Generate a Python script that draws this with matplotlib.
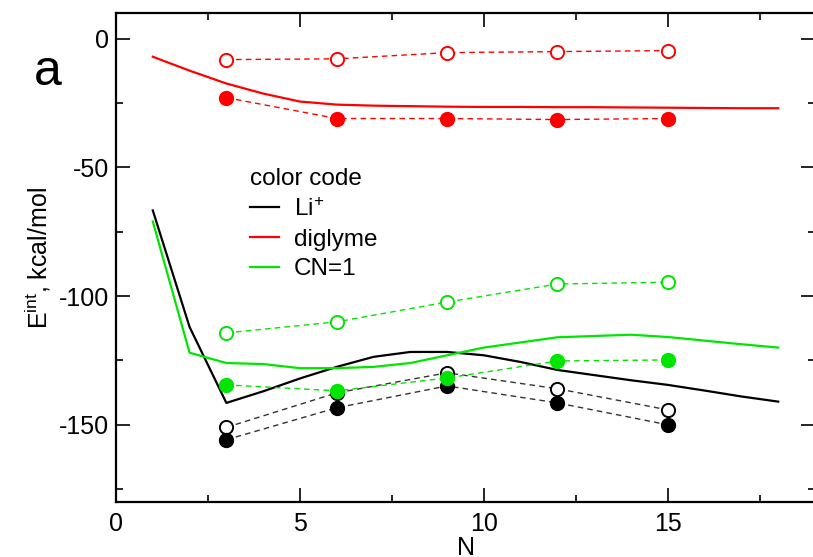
import numpy as np
import matplotlib
matplotlib.use("Agg")
import matplotlib.pyplot as plt
from matplotlib.lines import Line2D
from matplotlib.ticker import MultipleLocator

plt.rcParams['font.family'] = ['Liberation Sans', 'DejaVu Sans']
plt.rcParams['mathtext.fontset'] = 'custom'
plt.rcParams['mathtext.rm'] = 'Liberation Sans'
plt.rcParams['mathtext.default'] = 'regular'
plt.rcParams['axes.unicode_minus'] = False

# solid curves (N = 1..18)
n_line = np.arange(1, 19)
li_line = [-66.7, -112, -141.5, -137, -132, -127.5, -123.6, -121.7, -121.7, -123,
           -125.6, -128.7, -130.7, -132.7, -134.5, -136.7, -139, -141]
dig_line = [-7, -12.4, -17.4, -21.3, -24.4, -25.6, -26, -26.2, -26.4, -26.5,
            -26.5, -26.6, -26.6, -26.7, -26.8, -26.9, -27, -27]
cn_line = [-71, -122, -126, -126.4, -128, -128, -127.5, -126, -123, -120,
           -118, -116, -115.5, -115, -115.9, -117.3, -118.7, -120]

# dashed series with markers (N = 3, 6, 9, 12, 15)
n_pts = [3, 6, 9, 12, 15]
dig_open = [-8.1, -7.8, -5.4, -5.0, -4.6]
dig_fill = [-22.9, -31.0, -31.0, -31.4, -31.0]
cn_open = [-114.3, -110.0, -102.3, -95.3, -94.6]
cn_fill = [-134.5, -136.8, -131.8, -125.2, -124.8]
li_open = [-151.0, -137.6, -129.8, -136.0, -144.2]
li_fill = [-155.8, -143.4, -134.9, -141.5, -150.0]

RED = '#ff0000'
GREEN = '#00e600'
BLACK = '#000000'

fig = plt.figure(figsize=(8.13, 5.57), dpi=100)
ax = fig.add_axes([116/813, 55/557, 699/813, 489/557])

ax.plot(n_line, li_line, color=BLACK, lw=1.6)
ax.plot(n_line, dig_line, color=RED, lw=1.6)
ax.plot(n_line, cn_line, color=GREEN, lw=1.6)

dash = (4, 3)
for vals, col, dcol in [(dig_open, RED, RED), (cn_open, GREEN, GREEN),
                        (li_open, BLACK, '#333333')]:
  ax.plot(n_pts, vals, color=dcol, lw=1.0, dashes=dash, marker='o', ms=9.5,
          mfc='white', mec=col, mew=1.4)
for vals, col, dcol in [(dig_fill, RED, RED), (li_fill, BLACK, '#333333'),
                        (cn_fill, GREEN, GREEN)]:
  ax.plot(n_pts, vals, color=dcol, lw=1.0, dashes=dash, marker='o', ms=10,
          mfc=col, mec=col)

ax.set_xlim(0, 19)
ax.set_ylim(-180, 10)
ax.xaxis.set_major_locator(MultipleLocator(5))
ax.xaxis.set_minor_locator(MultipleLocator(2.5))
ax.yaxis.set_major_locator(MultipleLocator(50))
ax.yaxis.set_minor_locator(MultipleLocator(25))
ax.tick_params(which='both', direction='in', top=True, right=True,
               labelsize=18, width=1.2)
ax.tick_params(which='major', length=10)
ax.tick_params(which='minor', length=5)
ax.tick_params(axis='x', pad=7)
ax.tick_params(axis='y', pad=5)
for sp in ax.spines.values():
  sp.set_linewidth(1.6)

ax.set_xlabel('N', fontsize=18, labelpad=0)
ax.set_ylabel('E$^{int}$, kcal/mol', fontsize=18, labelpad=4)
fig.text(48/813, 1 - 72/557, 'a', fontsize=36, ha='center', va='center')

handles = [Line2D([0], [0], color=BLACK, lw=1.6),
           Line2D([0], [0], color=RED, lw=1.6),
           Line2D([0], [0], color=GREEN, lw=1.6)]
leg = ax.legend(handles, ['Li$^{+}$', 'diglyme', 'CN=1'], title='color code',
                loc='upper left', bbox_to_anchor=((238-116)/699, (502-156)/489),
                frameon=False, fontsize=17.5, title_fontsize=17.5,
                handlelength=1.2, handletextpad=0.6, labelspacing=0.32,
                borderpad=0, alignment='left')

fig.savefig('out.png', dpi=100)
